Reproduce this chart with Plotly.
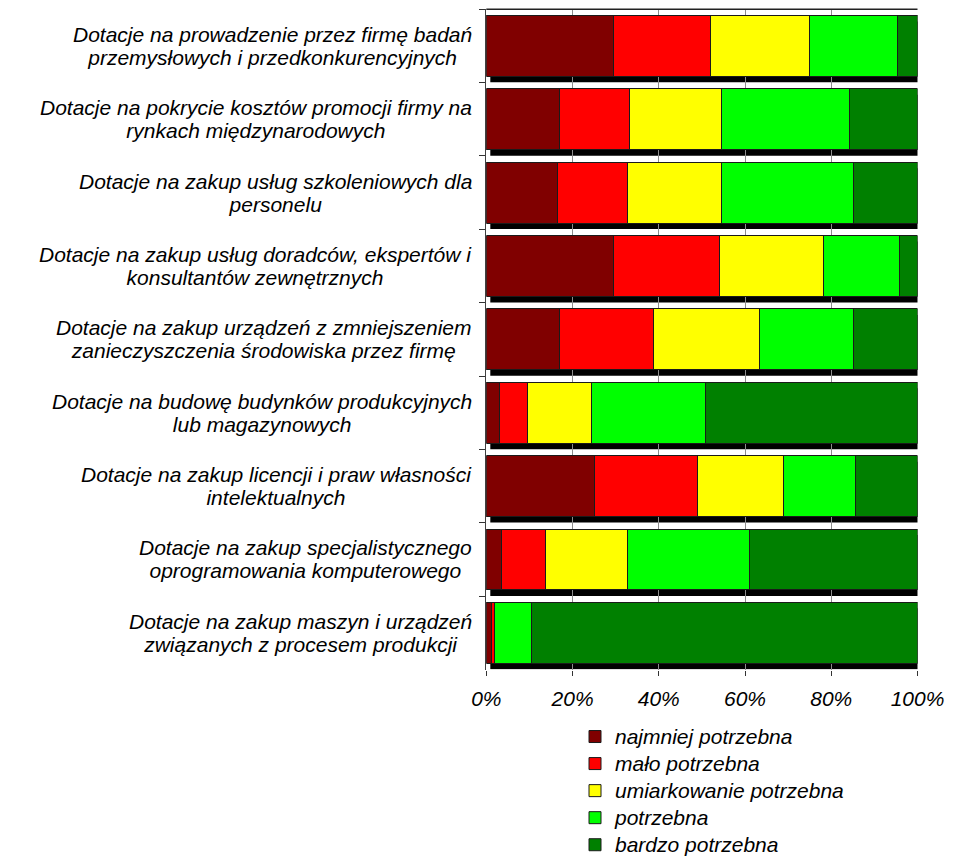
import plotly.graph_objects as go

# Categories, top to bottom
categories = [
    "Dotacje na prowadzenie przez firmę badań<br>przemysłowych i przedkonkurencyjnych",
    "Dotacje na pokrycie kosztów promocji firmy na<br>rynkach międzynarodowych",
    "Dotacje na zakup usług szkoleniowych dla<br>personelu",
    "Dotacje na zakup usług doradców, ekspertów i<br>konsultantów zewnętrznych",
    "Dotacje na zakup urządzeń z zmniejszeniem<br>zanieczyszczenia środowiska przez firmę",
    "Dotacje na budowę budynków produkcyjnych<br>lub magazynowych",
    "Dotacje na zakup licencji i praw własności<br>intelektualnych",
    "Dotacje na zakup specjalistycznego<br>oprogramowania komputerowego",
    "Dotacje na zakup maszyn i urządzeń<br>związanych z procesem produkcji",
]

series_names = [
    "najmniej potrzebna",
    "mało potrzebna",
    "umiarkowanie potrzebna",
    "potrzebna",
    "bardzo potrzebna",
]

# Shares (%) per category, same order as categories
najmniej = [29.5, 16.9, 16.6, 29.6, 17.0, 3.0, 25.0, 3.6, 1.3]
malo = [22.6, 16.2, 16.2, 24.5, 21.8, 6.5, 24.0, 10.1, 0.6]
umiarkowanie = [22.8, 21.5, 21.8, 24.1, 24.6, 14.9, 20.0, 19.1, 0.0]
potrzebna = [20.5, 29.7, 30.6, 17.7, 21.8, 26.5, 16.7, 28.3, 8.5]
bardzo = [4.6, 15.7, 14.8, 4.1, 14.8, 49.1, 14.3, 38.9, 89.6]

series_values = [najmniej, malo, umiarkowanie, potrzebna, bardzo]
colors = ["#800000", "#FF0000", "#FFFF00", "#00FF00", "#008000"]

tick_values = [0, 20, 40, 60, 80, 100]
tick_labels = ["0%", "20%", "40%", "60%", "80%", "100%"]

# Layout geometry (pixels)
W, H = 953, 856
X_DOM = [486.3 / W, 917.5 / W]
Y_DOM = [1 - 669.5 / H, 1 - 9.2 / H]
BARGAP = 0.17
SHADOW_DX, SHADOW_DY = 4, 6
FONT = "Arial, 'Liberation Sans', sans-serif"
FSIZE = 21
LABEL_SPACING_SIZE = 18    # sets the gap between wrapped label lines
LEGEND_SPACING_SIZE = 18.5  # sets the gap between legend rows


def sized(txt):
    return '<span style="font-size:%dpx">%s</span>' % (FSIZE, txt)


fig = go.Figure()
for name, vals, col in zip(series_names, series_values, colors):
    fig.add_trace(go.Bar(
        y=categories, x=vals, name=sized(name), orientation="h",
        marker=dict(color=col, line=dict(color="#1a1a1a", width=1)),
    ))

# Drop shadows behind each bar, offset right and down
plot_w = W * (X_DOM[1] - X_DOM[0])
band_px = H * (Y_DOM[1] - Y_DOM[0]) / len(categories)
bar_px = band_px * (1 - BARGAP)
totals = [sum(v) for v in zip(*series_values)]
for i, tot in enumerate(totals):
    fig.add_shape(
        type="rect", xref="x", yref="y", layer="below",
        xsizemode="pixel", ysizemode="pixel",
        xanchor=tot, yanchor=i,
        x0=SHADOW_DX - plot_w * tot / 100, x1=SHADOW_DX,
        y0=-bar_px / 2 - SHADOW_DY, y1=bar_px / 2 - SHADOW_DY,
        fillcolor="black", line_width=0,
    )

# Top edge of the plot frame
fig.add_shape(type="line", xref="x domain", yref="y domain",
              x0=0, x1=1, y0=1, y1=1, line=dict(color="#222222", width=1.5))

# Category labels: centred wrapped lines
for cat in categories:
    text = "<br>".join(sized(ln) for ln in cat.split("<br>"))
    fig.add_annotation(
        text=text, xref="paper", yref="y",
        x=474 / W, y=cat, xanchor="right", yanchor="middle",
        align="center", showarrow=False,
        font=dict(family=FONT, size=LABEL_SPACING_SIZE, style="italic", color="black"),
    )

fig.update_layout(
    width=W, height=H,
    margin=dict(l=0, r=0, t=0, b=0, autoexpand=False),
    paper_bgcolor="white", plot_bgcolor="white",
    barmode="stack", bargap=BARGAP,
    showlegend=True,
    legend=dict(
        x=575 / W, y=1 - 718 / H, xanchor="left", yanchor="top",
        traceorder="normal", bgcolor="rgba(0,0,0,0)",
        font=dict(family=FONT, size=LEGEND_SPACING_SIZE, style="italic", color="black"),
    ),
    xaxis=dict(
        domain=X_DOM, range=[0, 100], tickvals=tick_values, ticktext=tick_labels,
        showgrid=True, gridcolor="#8c8c8c", gridwidth=1,
        zeroline=False, showline=False,
        ticks="outside", ticklen=5, tickcolor="#333333", ticklabelstandoff=5,
        tickfont=dict(family=FONT, size=FSIZE, style="italic", color="black"),
    ),
    yaxis=dict(
        domain=Y_DOM, type="category", autorange="reversed",
        categoryorder="array", categoryarray=categories,
        showticklabels=False, showgrid=False, zeroline=False,
        showline=True, linecolor="#404040", linewidth=1,
        ticks="outside", tickson="boundaries", ticklen=6, tickcolor="#333333",
    ),
)

fig.write_html("out.html")
